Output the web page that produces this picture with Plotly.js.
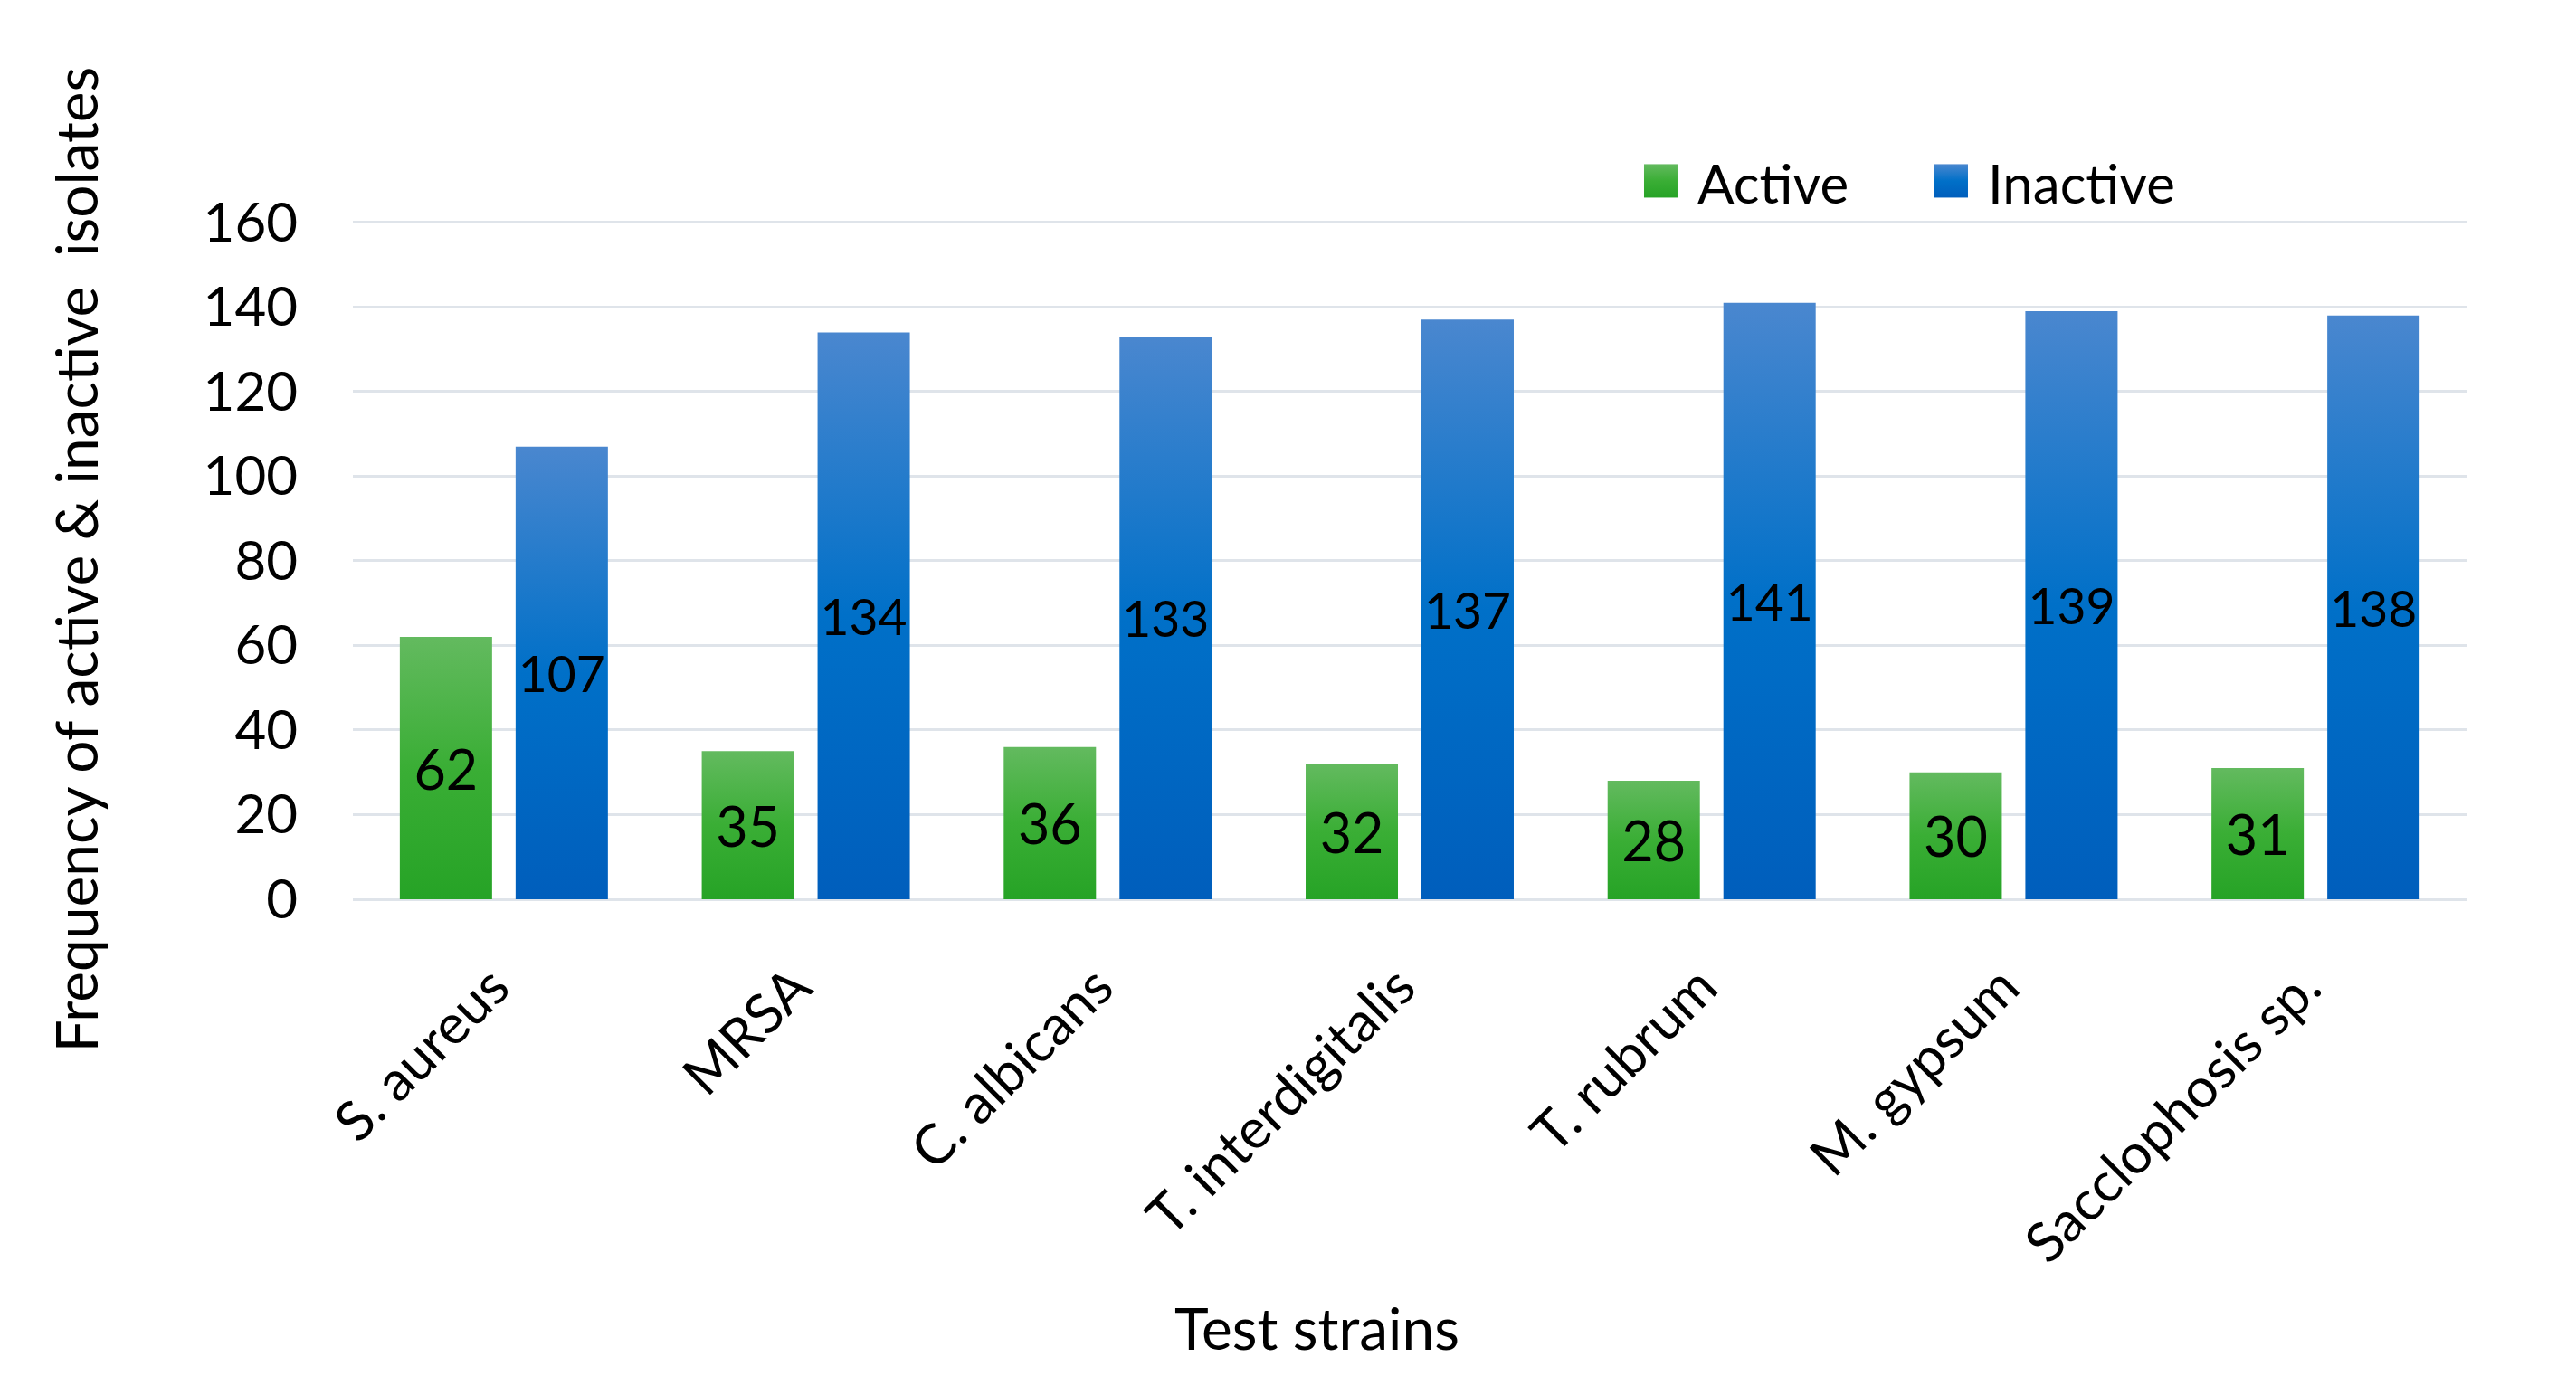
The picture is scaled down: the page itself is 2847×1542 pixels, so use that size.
<!DOCTYPE html>
<html>
<head>
<meta charset="utf-8">
<script src="https://cdn.plot.ly/plotly-3.0.1.min.js"></script>
<style>
  html, body { margin: 0; padding: 0; background: #ffffff; }
  #chart { width: 2847px; height: 1542px; }
</style>
</head>
<body>
<div id="chart"></div>
<script>
// ---- data ----
const categories = ['S. aureus', 'MRSA', 'C. albicans', 'T. interdigitalis', 'T. rubrum', 'M. gypsum', 'Sacclophosis sp.'];
const activeValues = [62, 35, 36, 32, 28, 30, 31];
const inactiveValues = [107, 134, 133, 137, 141, 139, 138];
const seriesNames = ['Active', 'Inactive'];
const yTickValues = [0, 20, 40, 60, 80, 100, 120, 140, 160];
const yAxisTitle = 'Frequency of active & inactive  isolates';
const xAxisTitle = 'Test strains';

// ---- styles ----
const FONT = 'Lato, "Open Sans", sans-serif';
const FS = 60;
const TFS = 64;
const gradients = {
  gradActive:   [['0%', '#63ba5f'], ['50%', '#3aae35'], ['100%', '#26a326']],
  gradInactive: [['0%', '#4a87cf'], ['50%', '#0070c8'], ['100%', '#005ebc']]
};

const labelFont = { family: FONT, size: FS + 1, color: '#000000' };

const traces = [
  {
    type: 'bar', name: seriesNames[0], x: categories, y: activeValues,
    marker: { color: '#3aae35' },
    text: activeValues.map(String), textposition: 'inside', insidetextanchor: 'middle',
    textangle: 0, textfont: labelFont, hoverinfo: 'x+y'
  },
  {
    type: 'bar', name: seriesNames[1], x: categories, y: inactiveValues,
    marker: { color: '#0070c8' },
    text: inactiveValues.map(String), textposition: 'inside', insidetextanchor: 'middle',
    textangle: 0, textfont: labelFont, hoverinfo: 'x+y'
  }
];

const layout = {
  width: 2847, height: 1542,
  paper_bgcolor: '#ffffff', plot_bgcolor: '#ffffff',
  margin: { l: 390, r: 121, t: 243, b: 548, autoexpand: false },
  font: { family: FONT, size: FS, color: '#000000' },
  barmode: 'group', bargap: 0.233, bargroupgap: 0.203,
  constraintext: 'none',
  showlegend: true,
  legend: {
    orientation: 'h', x: 0.619, xanchor: 'left', y: 1.055, yanchor: 'middle',
    entrywidth: 276, entrywidthmode: 'pixels',
    font: { family: FONT, size: FS, color: '#000000' },
    bgcolor: 'rgba(0,0,0,0)', traceorder: 'normal', itemclick: false
  },
  xaxis: {
    type: 'category', tickangle: -45, showgrid: false, showline: false, zeroline: false,
    ticks: '', ticklabelstandoff: 48, ticklabelshift: -12, automargin: false,
    tickfont: { family: FONT, size: FS + 1, color: '#000000' }
  },
  yaxis: {
    range: [0, 160.6], tickvals: yTickValues, ticktext: yTickValues.map(String),
    showgrid: true, gridcolor: '#dfe4ea', gridwidth: 3,
    zeroline: true, zerolinecolor: '#dfe4ea', zerolinewidth: 3,
    showline: false, ticks: '', ticklabelstandoff: 60, automargin: false,
    tickfont: { family: FONT, size: FS, color: '#000000' },
    title: { text: yAxisTitle, font: { family: FONT, size: TFS, color: '#000000' }, standoff: 95 }
  },
  annotations: [
    {
      text: xAxisTitle, xref: 'paper', yref: 'paper', x: 0.456, y: -0.631,
      xanchor: 'center', yanchor: 'middle', showarrow: false,
      font: { family: FONT, size: TFS, color: '#000000' }
    }
  ]
};

const gd = document.getElementById('chart');
Plotly.newPlot(gd, traces, layout, { staticPlot: true, displayModeBar: false }).then(function () {
  const svg = gd.querySelector('.main-svg');
  const ns = 'http://www.w3.org/2000/svg';
  let defs = svg.querySelector('defs');
  if (!defs) { defs = document.createElementNS(ns, 'defs'); svg.insertBefore(defs, svg.firstChild); }
  Object.keys(gradients).forEach(function (id) {
    const lg = document.createElementNS(ns, 'linearGradient');
    lg.setAttribute('id', id);
    lg.setAttribute('x1', '0'); lg.setAttribute('y1', '0');
    lg.setAttribute('x2', '0'); lg.setAttribute('y2', '1');
    gradients[id].forEach(function (s) {
      const st = document.createElementNS(ns, 'stop');
      st.setAttribute('offset', s[0]);
      st.setAttribute('stop-color', s[1]);
      lg.appendChild(st);
    });
    defs.appendChild(lg);
  });
  const ids = ['gradActive', 'gradInactive'];
  gd.querySelectorAll('.barlayer .trace.bars').forEach(function (t, i) {
    t.querySelectorAll('.point path').forEach(function (p) {
      p.style.fill = 'url(#' + ids[i] + ')';
    });
  });
  // let legend swatches extend beyond the legend box
  const legendEl = gd.querySelector('.legend');
  if (legendEl) {
    legendEl.removeAttribute('clip-path');
    legendEl.querySelectorAll('[clip-path]').forEach(function (el) { el.removeAttribute('clip-path'); });
  }
  // larger legend swatches with gradients, placed just left of the legend text
  const SW = 37, GAP = 22;
  gd.querySelectorAll('.legend .traces').forEach(function (t, i) {
    const lp = t.querySelector('.legendpoints');
    if (lp) lp.style.display = 'none';
    const txt = t.querySelector('text.legendtext');
    let bx = 40, cy = -4;
    if (txt) {
      const bb = txt.getBBox();
      bx = bb.x;
      cy = bb.y + bb.height * 0.47;
    }
    const r = document.createElementNS(ns, 'rect');
    r.setAttribute('x', bx - GAP - SW);
    r.setAttribute('y', cy - SW / 2);
    r.setAttribute('width', SW);
    r.setAttribute('height', SW);
    r.style.fill = 'url(#' + ids[i] + ')';
    t.appendChild(r);
  });
});
</script>
</body>
</html>
